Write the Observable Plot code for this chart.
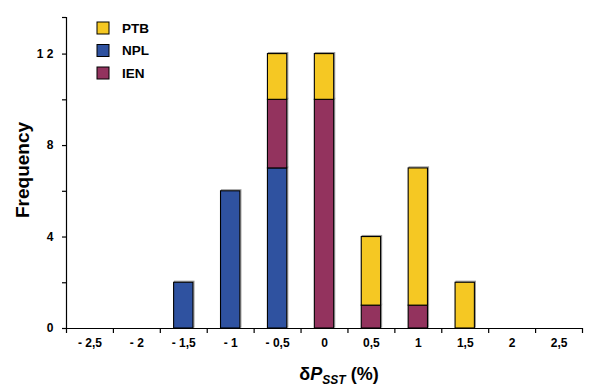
<!DOCTYPE html>
<html>
<head>
<meta charset="utf-8">
<script src="https://cdn.jsdelivr.net/npm/d3@7"></script>
<script src="https://cdn.jsdelivr.net/npm/@observablehq/plot@0.6"></script>
<style>
  html, body { margin: 0; padding: 0; background: #fff; }
  #chart { width: 601px; height: 387px; }
</style>
</head>
<body>
<div id="chart"></div>
<script>
// ---- data ----
const categories = [-2.5, -2, -1.5, -1, -0.5, 0, 0.5, 1, 1.5, 2, 2.5];
const nplCounts = [0, 0, 2, 6, 7, 0, 0, 0, 0, 0, 0];
const ienCounts = [0, 0, 0, 0, 3, 10, 1, 1, 0, 0, 0];
const ptbCounts = [0, 0, 0, 0, 2, 2, 3, 6, 2, 0, 0];
const legendSeries = ["PTB", "NPL", "IEN"];
const seriesColors = ["#F5C823", "#2F52A0", "#93335E"];
const yTickValues = [0, 2, 4, 6, 8, 10, 12];
const yTickLabels = ["0", "", "4", "", "8", "", "1 2"];
const yMax = 13.6;
const xTitle = ["δ", "P", "SST", " (%)"];
const yTitle = "Frequency";

// ---- build rows (stack order bottom→top: NPL, IEN, PTB) ----
const stackSeries = [["NPL", nplCounts], ["IEN", ienCounts], ["PTB", ptbCounts]];
const rows = [];
categories.forEach((c, i) => {
  for (const [name, counts] of stackSeries) {
    if (counts[i] > 0) rows.push({x: c, series: name, count: counts[i]});
  }
});
const step = categories[1] - categories[0];
const halfW = step * 0.206;
const boundaries = categories.map(c => c - step / 2).concat([categories[categories.length - 1] + step / 2]);
const xMin = boundaries[0], xMaxV = boundaries[boundaries.length - 1];
const fmt = d => (d < 0 ? "- " + String(-d) : String(d)).replace(".", ",");

const font = "Liberation Sans, Arial, Helvetica, sans-serif";

const plot = Plot.plot({
  width: 601,
  height: 387,
  marginLeft: 66,
  marginRight: 19,
  marginTop: 17,
  marginBottom: 59,
  style: {fontFamily: font, fontWeight: "bold", fontSize: "12px", color: "black", background: "white", overflow: "visible"},
  x: {type: "linear", domain: [xMin, xMaxV], label: null},
  y: {domain: [0, yMax], label: null},
  color: {domain: legendSeries, range: seriesColors},
  marks: [
    Plot.rectY(rows, {
      x1: d => d.x - halfW,
      x2: d => d.x + halfW,
      y: "count",
      fill: "none",
      stroke: "#9a9a9a",
      strokeWidth: 1.2,
      dx: 1,
      dy: -1
    }),
    Plot.rectY(rows, {
      x1: d => d.x - halfW,
      x2: d => d.x + halfW,
      y: "count",
      fill: "series",
      stroke: "black",
      strokeWidth: 1.1
    }),
    Plot.ruleY([0], {stroke: "black", strokeWidth: 1.2}),
    Plot.ruleX([xMin], {stroke: "black", strokeWidth: 1.2}),
    Plot.axisX(boundaries, {tickSize: 5, tickFormat: () => "", label: null, strokeWidth: 1.2}),
    Plot.axisX(categories, {tickSize: 0, tickPadding: 10, tickFormat: fmt, label: null}),
    Plot.axisY(yTickValues.concat([yMax]), {
      tickSize: 4,
      tickPadding: 9,
      strokeWidth: 1.2,
      tickFormat: d => { const i = yTickValues.indexOf(d); return i >= 0 ? yTickLabels[i] : ""; },
      label: null
    })
  ]
});

document.getElementById("chart").appendChild(plot);

const svg = d3.select(plot);

// Legend
const lg = svg.append("g").attr("font-family", font).attr("font-weight", "bold").attr("font-size", 13.5)
  .attr("text-anchor", "start");
legendSeries.forEach((s, i) => {
  const y = 22 + i * 22.5;
  lg.append("rect").attr("x", 97).attr("y", y).attr("width", 12).attr("height", 12)
    .attr("fill", seriesColors[i]).attr("stroke", "black").attr("stroke-width", 1);
  lg.append("text").attr("x", 122).attr("y", y + 6).attr("dy", "0.36em")
    .attr("text-anchor", "start").attr("fill", "black").text(s);
});

// Y title
svg.append("text")
  .attr("transform", "translate(29,170) rotate(-90)")
  .attr("text-anchor", "middle")
  .attr("font-family", font).attr("font-weight", "bold").attr("font-size", 19)
  .attr("fill", "black")
  .text(yTitle);

// X title
const xt = svg.append("text")
  .attr("x", 339).attr("y", 380)
  .attr("text-anchor", "middle")
  .attr("font-family", font).attr("font-weight", "bold").attr("font-size", 18)
  .attr("fill", "black");
xt.append("tspan").text(xTitle[0]);
xt.append("tspan").attr("font-style", "italic").text(xTitle[1]);
xt.append("tspan").attr("font-style", "italic").attr("font-size", 12).attr("dy", 3.5).text(xTitle[2]);
xt.append("tspan").attr("dy", -3.5).text(xTitle[3]);
</script>
</body>
</html>
